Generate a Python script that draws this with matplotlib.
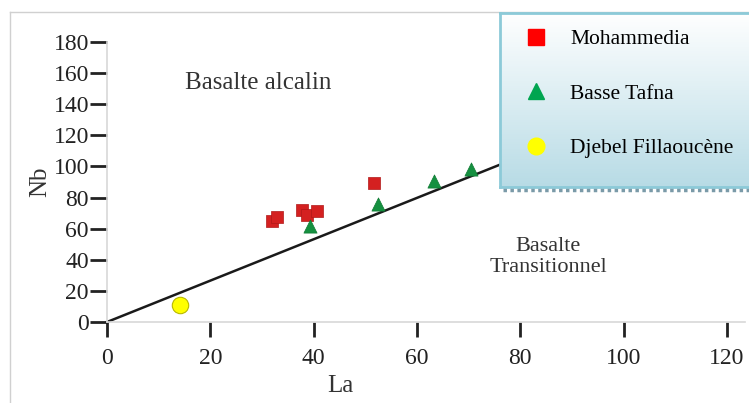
import numpy as np
import matplotlib.pyplot as plt
from matplotlib.lines import Line2D

plt.rcParams['font.family'] = ['Liberation Serif', 'DejaVu Serif']

# Mohammedia (squares)
moh_la = [31.9, 32.9, 37.7, 38.7, 40.6, 51.7]
moh_nb = [64.9, 67.5, 72.0, 68.8, 71.3, 89.3]
# Basse Tafna (triangles)
taf_la = [39.3, 52.4, 63.3, 70.4]
taf_nb = [61.7, 75.8, 90.6, 98.3]
# Djebel Fillaoucène (circle)
dje_la = [14.1]
dje_nb = [10.9]

# alkaline / transitional divide
line_la = [0, 100]
line_nb = [0, 133]

xticks = [0, 20, 40, 60, 80, 100, 120]
yticks = [0, 20, 40, 60, 80, 100, 120, 140, 160, 180]

W, H = 749, 403
fig = plt.figure(figsize=(W / 100, H / 100), dpi=100)

# light grey outer frame
frame = fig.add_axes([10 / W, 0, 1, 1 - 12 / H])
frame.set_xticks([])
frame.set_yticks([])
for s in ['right', 'bottom']:
    frame.spines[s].set_visible(False)
for s in ['left', 'top']:
    frame.spines[s].set_color('#d0d0d0')
    frame.spines[s].set_linewidth(1)
frame.patch.set_alpha(0)

ax = fig.add_axes([107 / W, (H - 322) / H, (745 - 107) / W, (322 - 42) / H])
ax.patch.set_alpha(0)
ax.set_xlim(0, (745 - 107) / 5.167)
ax.set_ylim(0, 180)
ax.set_xticks(xticks)
ax.set_yticks(yticks)
for s in ['top', 'right']:
    ax.spines[s].set_visible(False)
for s in ['left', 'bottom']:
    ax.spines[s].set_color('#d8d8d8')
    ax.spines[s].set_linewidth(1.2)
ax.tick_params(axis='y', direction='out', length=12, width=2, color='#222222',
               labelsize=17, pad=1)
ax.tick_params(axis='x', direction='out', length=11, width=2, color='#222222',
               labelsize=17, pad=8)
for lab in ax.get_xticklabels() + ax.get_yticklabels():
    lab.set_color('#222222')

ax.plot(line_la, line_nb, color='#1a1a1a', lw=1.8, clip_on=False, zorder=2)
ax.scatter(moh_la, moh_nb, marker='s', s=75, color='#d42020', edgecolor='#b01818',
           linewidth=0.5, zorder=3)
ax.scatter(taf_la, taf_nb, marker='^', s=90, color='#159040', edgecolor='#0f7a33',
           linewidth=0.5, zorder=3)
ax.scatter(dje_la, dje_nb, marker='o', s=140, color='#ffff00', edgecolor='#b8b800',
           linewidth=0.8, zorder=3, clip_on=False)

ax.text(29.2, 153.5, 'Basalte alcalin', fontsize=18, color='#333333', ha='center', va='center')
ax.text(85.4, 42, 'Basalte\nTransitionnel', fontsize=16, color='#333333', ha='center',
        va='center', linespacing=1.15)

ax.set_xlabel('La', fontsize=18, color='#333333')
ax.xaxis.set_label_coords((340 - 107) / (745 - 107), -0.19)
ax.set_ylabel('Nb', fontsize=18, color='#333333')
ax.yaxis.set_label_coords(-(107 - 51) / (745 - 107), 0.5)

# legend box with vertical gradient
lx0, ly0, lx1, ly1 = 500, 13, 752, 187
lax = fig.add_axes([lx0 / W, (H - ly1) / H, (lx1 - lx0) / W, (ly1 - ly0) / H])
grad = np.linspace(0, 1, 256).reshape(-1, 1)
top = np.array([1.0, 1.0, 1.0])
bot = np.array([0.72, 0.86, 0.90])
img = top + (bot - top) * grad[..., None]
lax.imshow(img, aspect='auto', extent=[0, 1, 0, 1], origin='upper')
lax.set_xlim(0, 1)
lax.set_ylim(0, 1)
lax.set_xticks([])
lax.set_yticks([])
for s in lax.spines.values():
    s.set_color('#8ccad8')
    s.set_linewidth(2)

# dotted shadow under legend
fig.add_artist(Line2D([(lx0 + 3) / W, 1], [(H - 190) / H] * 2, color='#7a9aa8',
                      lw=2.5, ls=(0, (1, 1))))

handles = [
    Line2D([], [], marker='s', ls='none', ms=11, color='#ff0000', markeredgecolor='#ff0000'),
    Line2D([], [], marker='^', ls='none', ms=12, color='#00a550', markeredgecolor='#00a550'),
    Line2D([], [], marker='o', ls='none', ms=12, color='#ffff00', markeredgecolor='#ffff00'),
]
labels = ['Mohammedia', 'Basse Tafna', 'Djebel Fillaoucène']
fig.legend(handles, labels, loc='upper left', bbox_to_anchor=(514 / W, 1 - 29 / H),
           frameon=False, fontsize=15.5, labelspacing=1.6, handletextpad=0.6,
           borderaxespad=0, borderpad=0)

fig.savefig('out.png', dpi=100)
